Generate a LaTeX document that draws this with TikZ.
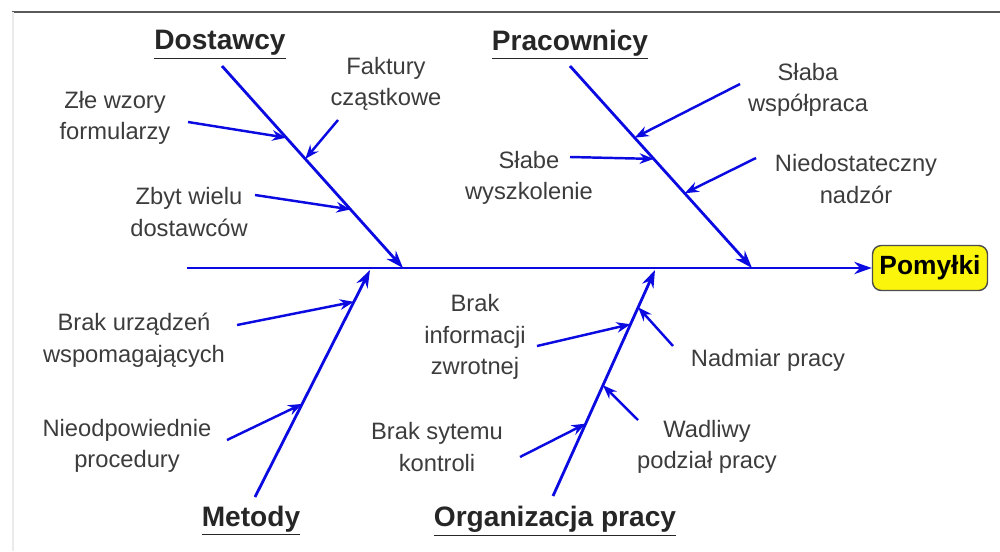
\documentclass[tikz,border=0pt]{standalone}
\usepackage{fontspec}
\setmainfont{Liberation Sans}
\usepackage{xcolor}
\usetikzlibrary{arrows.meta, positioning}
\definecolor{cbone}  {RGB}{10,10,225}
\definecolor{ctext}  {RGB}{60,60,60}
\definecolor{cframe} {RGB}{90,90,90}
\definecolor{cyell}  {RGB}{250,245,10}
\tikzset{
  bone/.style={-{Stealth[length=10pt,width=7pt]}, line width=1.6pt, color=cbone},
  twig/.style={-{Stealth[length=8pt,width=6pt]}, line width=1.4pt, color=cbone},
  cause/.style={font=\fontsize{13.5}{18}\selectfont, text=ctext, align=center, inner sep=1pt},
  head/.style={font=\fontsize{16}{19}\selectfont\bfseries, text=black!85, inner sep=1pt},
  effect/.style={rectangle, rounded corners=5pt, draw=black!70, fill=cyell,
                 font=\fontsize{15}{18}\selectfont\bfseries, line width=0.8pt,
                 minimum width=2.3cm, minimum height=0.9cm},
}

\begin{document}
\begin{tikzpicture}[x=0.02cm, y=-0.02cm]
  \useasboundingbox (0,0) rectangle (1000,551);
  % ── Frame ──────────────────────────────────────────────────────────────────
  \draw[cframe, line width=1.4pt] (12,12) -- (1000,12);
  \draw[black!8, line width=0.8pt] (13,12) -- (13,551);

  % ── Spine + effect ─────────────────────────────────────────────────────────
  \node[effect] at (930,268) (eff) {Pomyłki};
  \coordinate (tail) at (187,268);
  \draw[bone, line width=1.3pt] (tail) -- (eff.west);

  % ── Headings ───────────────────────────────────────────────────────────────
  \node[head] at (220,45)  (dos) {\underline{Dostawcy}};
  \node[head] at (570,45)  (pra) {\underline{Pracownicy}};
  \node[head] at (251,521) (met) {\underline{Metody}};
  \node[head] at (555,521) (org) {\underline{Organizacja pracy}};

  % ── Bones ──────────────────────────────────────────────────────────────────
  \coordinate (dosA) at (222,66);  \coordinate (dosB) at (403,268);
  \coordinate (praA) at (570,66);  \coordinate (praB) at (752,268);
  \coordinate (metA) at (255,497); \coordinate (metB) at (370,270);
  \coordinate (orgA) at (553,496); \coordinate (orgB) at (655,270);
  \draw[bone] (dosA) -- coordinate[pos=0.355] (dos1) coordinate[pos=0.46] (dos2)
              coordinate[pos=0.71] (dos3) (dosB);
  \draw[bone] (praA) -- coordinate[pos=0.355] (pra1) coordinate[pos=0.46] (pra2)
              coordinate[pos=0.63] (pra3) (praB);
  \draw[bone] (metA) -- coordinate[pos=0.41] (met1) coordinate[pos=0.86] (met2) (metB);
  \draw[bone] (orgA) -- coordinate[pos=0.32] (org1) coordinate[pos=0.49] (org2)
              coordinate[pos=0.76] (org3) coordinate[pos=0.835] (org4) (orgB);

  % ── Causes: Dostawcy ───────────────────────────────────────────────────────
  \node[cause] at (115,118) (zle) {Złe wzory\\formularzy};
  \node[cause] at (386,84)  (fak) {Faktury\\cząstkowe};
  \node[cause] at (189,212) (zby) {Zbyt wielu\\dostawców};
  \coordinate (zleS) at (188,122);
  \coordinate (fakS) at (338,120);
  \coordinate (zbyS) at (255,195);
  \draw[twig] (zleS) -- (dos1);
  \draw[twig] (fakS) -- (dos2);
  \draw[twig] (zbyS) -- (dos3);

  % ── Causes: Pracownicy ─────────────────────────────────────────────────────
  \node[cause] at (808,90)  (wsp) {Słaba\\współpraca};
  \node[cause] at (529,178) (wys) {Słabe\\wyszkolenie};
  \node[cause] at (856,179) (nad) {Niedostateczny\\nadzór};
  \coordinate (wspS) at (740,84);
  \coordinate (wysS) at (570,157);
  \coordinate (nadS) at (756,158);
  \draw[twig] (wspS) -- (pra1);
  \draw[twig] (wysS) -- (pra2);
  \draw[twig] (nadS) -- (pra3);

  % ── Causes: Metody ─────────────────────────────────────────────────────────
  \node[cause] at (134,340) (urz) {Brak urządzeń\\wspomagających};
  \node[cause] at (127,446) (pro) {Nieodpowiednie\\procedury};
  \coordinate (urzS) at (237,325);
  \coordinate (proS) at (227,440);
  \draw[twig] (proS) -- (met1);
  \draw[twig] (urzS) -- (met2);

  % ── Causes: Organizacja pracy ──────────────────────────────────────────────
  \node[cause] at (475,337) (inf) {Brak\\informacji\\zwrotnej};
  \node[cause] at (768,360) (nadm) {Nadmiar pracy};
  \node[cause] at (437,447) (kon) {Brak sytemu\\kontroli};
  \node[cause] at (707,447) (wad) {Wadliwy\\podział pracy};
  \coordinate (infS)  at (537,346);
  \coordinate (nadmS) at (673,346);
  \coordinate (konS)  at (520,457);
  \coordinate (wadS)  at (638,420);
  \draw[twig] (konS)  -- (org1);
  \draw[twig] (wadS)  -- (org2);
  \draw[twig] (infS)  -- (org3);
  \draw[twig] (nadmS) -- (org4);
\end{tikzpicture}
\end{document}
